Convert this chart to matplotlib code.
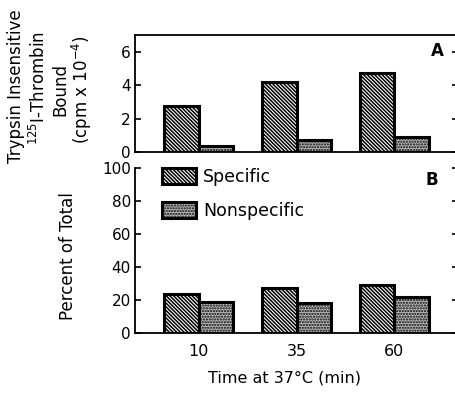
import matplotlib
matplotlib.use("Agg")
import matplotlib.pyplot as plt
import numpy as np

plt.rcParams['font.family'] = ['DejaVu Sans']
plt.rcParams['hatch.linewidth'] = 1.1

times = ["10", "35", "60"]
bound_specific = [2.75, 4.2, 4.75]
bound_nonspecific = [0.35, 0.7, 0.9]
pct_specific = [23.5, 27, 29]
pct_nonspecific = [18.5, 18, 22]

W, H = 455, 399
fig = plt.figure(figsize=(W / 100, H / 100), dpi=100)

def fx(px):
    return px / W

def fy(py):
    return 1 - py / H

left, right = 135, 458
axA = fig.add_axes([fx(left), fy(152), fx(right - left), fy(35) - fy(152)])
axB = fig.add_axes([fx(left), fy(333), fx(right - left), fy(168) - fy(333)])

x = np.arange(len(times))
bw = 0.35
spec_kw = dict(facecolor='white', edgecolor='black', hatch='\\' * 9, linewidth=2.2)
non_kw = dict(facecolor='#bdbdbd', edgecolor='black', hatch='......', linewidth=2.2)

for ax in (axA, axB):
    ax.set_xlim(-0.65, 2.65)
    ax.spines['right'].set_visible(False)
    ax.tick_params(axis='y', direction='in', length=4, width=1.2, right=True,
                   labelsize=11, pad=3)
    ax.tick_params(axis='x', length=0, labelsize=11.5)
    for s in ('left', 'bottom', 'top'):
        ax.spines[s].set_linewidth(1.3)

axA.bar(x - bw / 2, bound_specific, bw, **spec_kw)
axA.bar(x + bw / 2, bound_nonspecific, bw, **non_kw)
axA.set_ylim(0, 7)
axA.set_yticks([0, 2, 4, 6])
axA.set_xticks([])
axA.text(0.935, 0.86, "A", transform=axA.transAxes, fontsize=12, fontweight='bold',
         ha='center', va='center')

axB.bar(x - bw / 2, pct_specific, bw, label="Specific", **spec_kw)
axB.bar(x + bw / 2, pct_nonspecific, bw, label="Nonspecific", **non_kw)
axB.set_ylim(0, 100)
axB.set_yticks([0, 20, 40, 60, 80, 100])
axB.spines['top'].set_visible(False)
axB.set_xticks(x)
axB.set_xticklabels(times)
axB.tick_params(axis='x', pad=8)
axB.text(0.92, 0.925, "B", transform=axB.transAxes, fontsize=12, fontweight='bold',
         ha='center', va='center')
axB.legend(loc='upper left', bbox_to_anchor=(0.085, 1.0), frameon=False,
           fontsize=12.5, handlelength=1.95, handleheight=0.98, labelspacing=0.92,
           handletextpad=0.4, borderaxespad=0, borderpad=0)

fig.text(fx(16), fy(86), "Trypsin Insensitive", rotation=90, ha='center', va='center', fontsize=12)
fig.text(fx(39), fy(88), r"$^{125}$I-Thrombin", rotation=90, ha='center', va='center', fontsize=12)
fig.text(fx(60), fy(90), "Bound", rotation=90, ha='center', va='center', fontsize=12)
fig.text(fx(82), fy(90), r"(cpm x 10$^{-4}$)", rotation=90, ha='center', va='center', fontsize=12)
fig.text(fx(68), fy(256), "Percent of Total", rotation=90, ha='center', va='center', fontsize=12)
fig.text(fx(284), fy(378), "Time at 37°C (min)", ha='center', va='center', fontsize=11.5)

fig.savefig("out.png", dpi=100)
